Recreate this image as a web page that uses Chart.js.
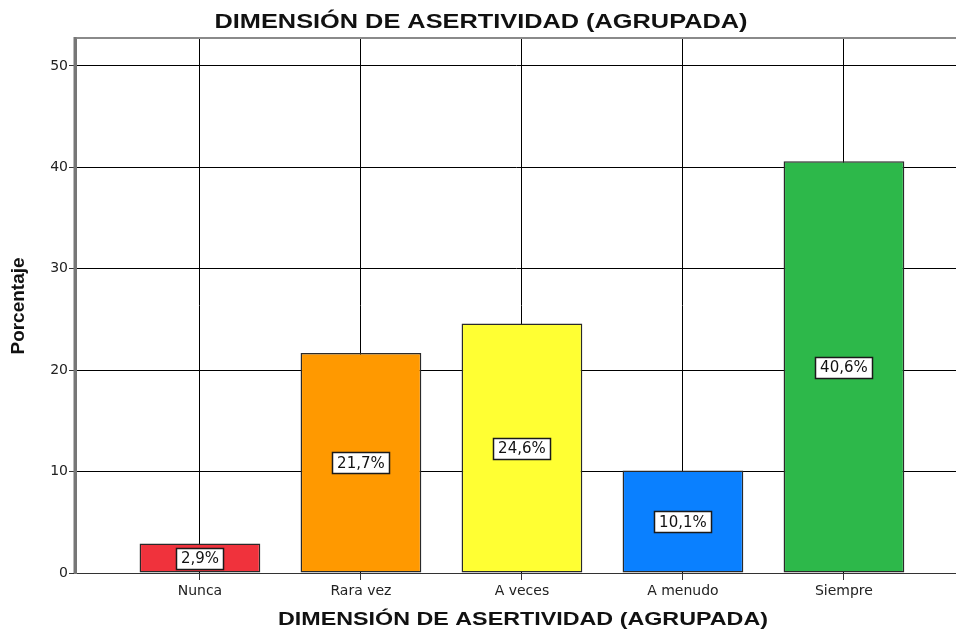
<!DOCTYPE html>
<html>
<head>
<meta charset="utf-8">
<script src="https://cdn.jsdelivr.net/npm/chart.js@4"></script>
<style>
  html, body { margin: 0; padding: 0; background: #fff; overflow: hidden; }
  #wrap { width: 956px; height: 631px; position: relative; }
</style>
</head>
<body>
<div id="wrap"><canvas id="chart"></canvas></div>
<script>
// data
const categories = ['Nunca', 'Rara vez', 'A veces', 'A menudo', 'Siempre'];
const percentages = [2.9, 21.7, 24.6, 10.1, 40.6];
const barColors = ['#f0323c', '#ff9900', '#ffff33', '#0a80ff', '#2db84a'];
const yTicks = [0, 10, 20, 30, 40, 50];

const chartTitle = 'DIMENSIÓN DE ASERTIVIDAD (AGRUPADA)';
const xTitle = 'DIMENSIÓN DE ASERTIVIDAD (AGRUPADA)';
const yTitle = 'Porcentaje';

// the original picture is stretched sideways, so fit text to a width
function fitText(ctx, text, x, y, width) {
    let w = ctx.measureText(text).width;
    ctx.save();
    ctx.translate(x, y);
    ctx.scale(width / w, 1);
    ctx.fillText(text, 0, 0);
    ctx.restore();
}

const labelPlugin = {
    id: 'labels',
    afterDatasetsDraw(chart) {
        const ctx = chart.ctx;
        const meta = chart.getDatasetMeta(0);
        const yScale = chart.scales.y;
        ctx.save();
        ctx.font = '15px "DejaVu Sans", sans-serif';
        ctx.textAlign = 'center';
        ctx.textBaseline = 'middle';
        meta.data.forEach(function(bar, i) {
            let txt = percentages[i].toFixed(1).replace('.', ',') + '%';
            let y = yScale.getPixelForValue(percentages[i] / 2);
            let w = Math.round(ctx.measureText(txt).width + 9);
            let h = 21;
            let bx = Math.round(bar.x - w / 2) + 0.5;
            let by = Math.round(y - h / 2) + 0.5;
            ctx.fillStyle = '#fff';
            ctx.fillRect(bx, by, w, h);
            ctx.strokeStyle = '#1a1a1a';
            ctx.lineWidth = 1.5;
            ctx.strokeRect(bx, by, w, h);
            ctx.fillStyle = '#111';
            ctx.fillText(txt, bar.x, y + 1);
        });
        ctx.restore();
    },
    afterDraw(chart) {
        const ctx = chart.ctx;
        const area = chart.chartArea;
        ctx.save();
        // grey frame on top and left
        ctx.strokeStyle = '#8a8a8a';
        ctx.lineWidth = 2;
        ctx.beginPath();
        ctx.moveTo(area.left, area.top);
        ctx.lineTo(area.right, area.top);
        ctx.stroke();
        ctx.strokeStyle = '#777';
        ctx.lineWidth = 3;
        ctx.beginPath();
        ctx.moveTo(area.left, area.top - 1);
        ctx.lineTo(area.left, area.bottom);
        ctx.stroke();

        ctx.fillStyle = '#111';
        ctx.textAlign = 'center';
        ctx.textBaseline = 'middle';
        ctx.font = 'bold 20px "Liberation Sans", Arial, sans-serif';
        fitText(ctx, chartTitle, 481, 22, 533);
        ctx.font = 'bold 19px "Liberation Sans", Arial, sans-serif';
        fitText(ctx, xTitle, 523, 620, 490);
        ctx.translate(19, 306);
        ctx.rotate(-Math.PI / 2);
        ctx.font = 'bold 18px "Liberation Sans", Arial, sans-serif';
        fitText(ctx, yTitle, 0, 0, 97);
        ctx.restore();
    }
};

new Chart(document.getElementById('chart'), {
    type: 'bar',
    data: {
        datasets: [{
            data: percentages.map((v, i) => ({ x: i, y: v })),
            backgroundColor: barColors,
            borderColor: '#2a2a2a',
            borderWidth: 1.5,
            borderSkipped: false,
            barPercentage: 0.75,
            categoryPercentage: 1
        }]
    },
    options: {
        responsive: true,
        maintainAspectRatio: false,
        animation: false,
        layout: { padding: { left: 0, right: 0, top: 38, bottom: 0 } },
        plugins: {
            legend: { display: false },
            tooltip: { enabled: false }
        },
        scales: {
            x: {
                type: 'linear',
                offset: false,
                min: -0.776,
                max: 4.696,
                afterBuildTicks: function(scale) {
                    scale.ticks = categories.map((c, i) => ({ value: i }));
                },
                ticks: {
                    callback: function(v) { return categories[v]; },
                    color: '#222',
                    font: { size: 14, family: '"DejaVu Sans", sans-serif' },
                    padding: 3,
                    maxRotation: 0,
                    autoSkip: false
                },
                grid: { offset: false, color: '#000', lineWidth: 1, tickLength: 7, tickColor: '#333' },
                border: { display: true, color: '#333', width: 1 },
                afterFit: function(scale) { scale.height = 58; }
            },
            y: {
                min: 0,
                max: 52.76,
                afterBuildTicks: function(scale) {
                    scale.ticks = yTicks.map(v => ({ value: v }));
                },
                ticks: {
                    color: '#222',
                    font: { size: 14, family: '"DejaVu Sans", sans-serif' },
                    padding: 1
                },
                grid: { color: '#000', lineWidth: 1, tickLength: 6, tickColor: '#333' },
                border: { display: true, color: '#777', width: 3 },
                afterFit: function(scale) { scale.width = 75; }
            }
        }
    },
    plugins: [labelPlugin]
});
</script>
</body>
</html>
